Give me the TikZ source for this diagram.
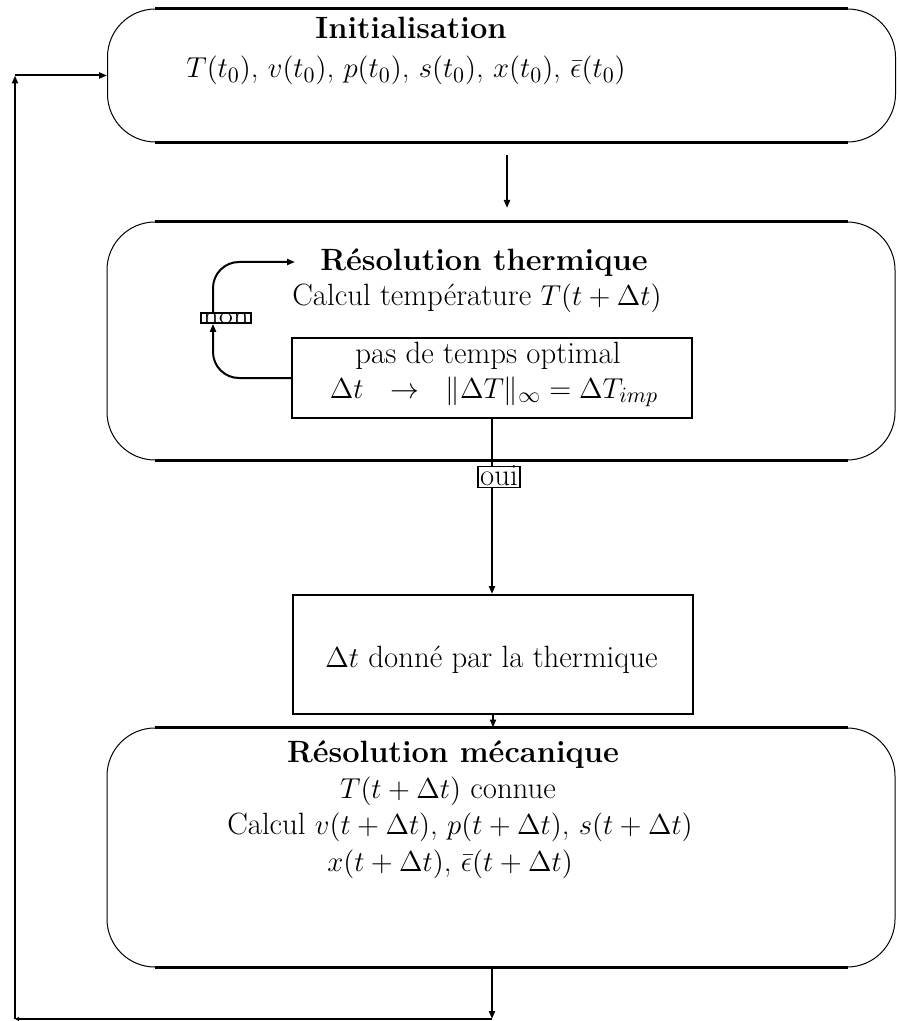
\documentclass[tikz,border=0pt]{standalone}
\usepackage{graphicx}
\usetikzlibrary{arrows.meta,calc}
\begin{document}
\begin{tikzpicture}[x=0.5pt,y=-0.5pt,
  every node/.style={font=\fontsize{15.4}{18}\selectfont, inner sep=0pt},
  rbox/.style={draw, line width=0.5pt, rounded corners=24pt, minimum width=394pt},
  sbox/.style={draw, line width=1pt, minimum width=200pt},
  thickline/.style={line width=1.3pt},
  arr/.style={line width=1pt, -{Triangle[length=4pt,width=3pt]}},
  smallarr/.style={line width=1pt, -{Triangle[length=2pt,width=2pt]}},
  lbl/.style={anchor=base},
  tag/.style={draw, fill=white, line width=0.8pt, inner xsep=1pt, text depth=0pt}
]
\useasboundingbox (0,0) rectangle (896,1021);

% boxes
\node[rbox, minimum height=66.5pt] (init) at (501.5,75.5) {};
\node[rbox, minimum height=119pt] (therm) at (501,341) {};
\node[rbox, minimum height=119.5pt] (meca) at (501,847.5) {};
\node[sbox, minimum height=40pt] (inner) at (492,378) {};
\node[sbox, minimum height=59.5pt] (dt) at (493,654.5) {};

\foreach \b in {init,therm,meca}{
  \draw[thickline] ([xshift=24pt]\b.north west) -- ([xshift=-24pt]\b.north east);
  \draw[thickline] ([xshift=24pt]\b.south west) -- ([xshift=-24pt]\b.south east);
}

% texts
\node[lbl] (tinit) at (411,39) {\textbf{Initialisation}};
\node[lbl] (vinit) at (406,78) {$T(t_0)$, $v(t_0)$, $p(t_0)$, $s(t_0)$, $x(t_0)$, $\bar\epsilon(t_0)$};
\node[lbl] (tth) at (484,271) {\textbf{Résolution thermique}};
\node[lbl] (cth) at (477,306) {Calcul température $T(t+\Delta t)$};
\node[lbl] (pas) at (488,363) {pas de temps optimal};
\node[lbl] (crit) at (494,398) {$\Delta t\ \ \rightarrow\ \ \|\Delta T\|_\infty = \Delta T_{imp}$};
\node[lbl] (dtt) at (491.5,667) {$\Delta t$ donné par la thermique};
\node[lbl] (tme) at (453,762) {\textbf{Résolution mécanique}};
\node[lbl] (l1) at (448,798) {$T(t+\Delta t)$ connue};
\node[lbl] (l2) at (460,834) {Calcul $v(t+\Delta t)$, $p(t+\Delta t)$, $s(t+\Delta t)$};
\node[lbl] (l3) at (450,871) {$x(t+\Delta t)$, $\bar\epsilon(t+\Delta t)$};

% init -> thermique
\coordinate (a1) at (507,155);
\coordinate (a2) at (507,208);
\draw[arr] (a1) -- (a2);

% inner loop "non"
\node[tag, text height=5pt] (non) at (226,318) {\scalebox{1}[0.75]{non}};
\coordinate (nx) at (213,300);
\coordinate (ntip) at (295,262);
\draw[arr, rounded corners=13pt] (inner.west) -- (inner.west -| nx) -- (non.south -| nx);
\draw[arr, rounded corners=13pt] (non.north -| nx) -- (ntip -| nx) -- (ntip);

% "oui" to dt box
\draw[arr] (inner.south) -- (inner.south |- dt.north);
\node[tag, text height=8.5pt, inner ysep=1pt] (oui) at (499,477) {oui};

% dt -> meca
\draw[arr] (dt.south) -- (dt.south |- meca.north);

% outer loop
\coordinate (c1) at (492,1019);
\coordinate (c2) at (15,1019);
\coordinate (c3) at (15,75.5);
\draw[arr] (meca.south -| c1) -- (c1);
\draw[smallarr] (c1) -- (c2);
\draw[arr] (c2) -- (c3);
\draw[arr] (c3) -- (init.west);
\end{tikzpicture}
\end{document}
